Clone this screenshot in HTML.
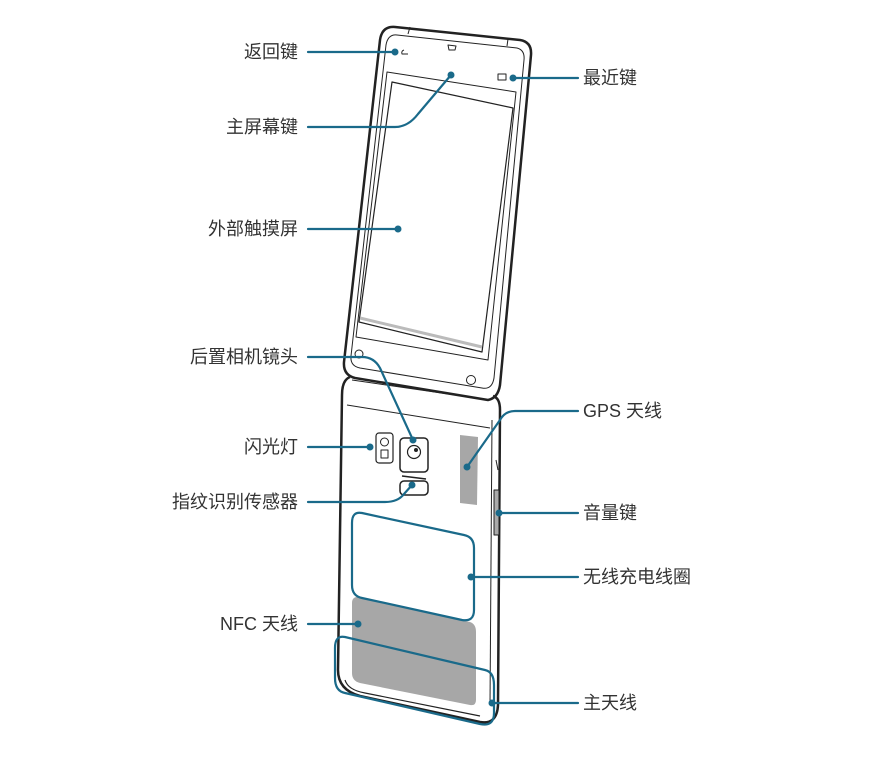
<!DOCTYPE html>
<html><head><meta charset="utf-8"><style>
html,body{margin:0;padding:0;background:#fff;width:870px;height:768px;overflow:hidden}
svg text{font-family:"Liberation Sans","Noto Sans CJK SC",sans-serif;font-size:18px;fill:#333}
</style></head><body>
<svg width="870" height="768" viewBox="0 0 870 768" xmlns="http://www.w3.org/2000/svg">
<g fill="none" stroke="#222" stroke-linejoin="round">
<!-- top flip outer -->
<path d="M395 27 L520 40 Q532 42 531 55 L500 385 Q498 398 488 400 L355 378 Q343 375 344 362 L380 40 Q382 26 395 27 Z" stroke-width="2.5"/>
<path d="M397 35 L517 48 Q525 50 524 60 L494 378 Q492 390 482 388 L360 368 Q350 366 351 356 L386 45 Q388 34 397 35 Z" stroke-width="1"/>
<!-- bezel -->
<path d="M387 72 L516 92 L488 360 L356 337 Z" stroke-width="1"/>
<!-- screen -->
<path d="M392 82 L513 108 L482 352 L359 322 Z" stroke-width="1.2"/>
<path d="M360 318 L482 347" stroke="#bbb" stroke-width="3"/>
<line x1="408" y1="34" x2="410" y2="27" stroke-width="1"/>
<line x1="507" y1="46" x2="508" y2="39" stroke-width="1"/>
<circle cx="359" cy="354" r="4" stroke-width="1"/>
<circle cx="471" cy="380" r="4.5" stroke-width="1"/>
<!-- icons -->
<path d="M404 50 q-3 1 -2 4 h6" stroke-width="1"/>
<path d="M448 45 l8 1 l-1 4 h-6 z" stroke-width="1"/>
<rect x="498" y="74" width="8" height="6" stroke-width="1"/>
<!-- bottom part outer -->
<path d="M350 377 Q342 380 342 395 L338 670 Q338 690 360 696 L480 722 Q497 725 498 705 L500 410 Q500 398 493 396" stroke-width="2.5"/>
<path d="M352 380 L490 400" stroke-width="1"/>
<path d="M347 405 L490 428" stroke-width="1"/>
<path d="M345 680 Q348 690 365 693 L480 716" stroke-width="1.2"/>
<path d="M492 420 L490 705" stroke-width="1"/>
<path d="M496 460 L498 470" stroke-width="1"/>
<rect x="494" y="490" width="5" height="45" fill="#aaa" stroke-width="1"/>
<!-- flash -->
<rect x="376" y="433" width="17" height="30" rx="3" stroke-width="1.2"/>
<circle cx="384.5" cy="442" r="4" stroke-width="1"/>
<rect x="381" y="450" width="7" height="8" stroke-width="1"/>
<!-- camera -->
<rect x="400" y="438" width="28" height="34" rx="4" stroke-width="1.5"/>
<circle cx="414" cy="452" r="6.5" stroke-width="1.2"/>
<circle cx="416" cy="450" r="1.5" fill="#222"/>
<line x1="402" y1="476" x2="426" y2="479" stroke-width="1.5"/>
<rect x="400" y="481" width="28" height="14" rx="4" stroke-width="1.5"/>
</g>
<!-- gray areas -->
<path d="M460 435 L478 437 L477 505 L460 503 Z" fill="#a7a7a7"/>
<path d="M352 603 Q352 596 360 597 L470 622 Q476 624 476 632 L476 700 Q476 706 470 705 L360 683 Q352 681 352 673 Z" fill="#a7a7a7"/>
<g fill="none" stroke="#1a6a8a" stroke-width="2.2" stroke-linecap="round" stroke-linejoin="round">
<!-- coil -->
<path d="M362 513 L464 535 Q474 537 474 548 L474 610 Q474 622 462 620 L362 598 Q352 596 352 585 L352 523 Q352 511 362 513 Z"/>
<!-- main antenna -->
<path d="M345 637 L485 670 Q494 672 494 685 L494 713 Q494 727 480 724 L345 693 Q335 691 335 678 L335 648 Q335 635 345 637 Z"/>
<!-- leaders left -->
<line x1="308" y1="52" x2="395" y2="52"/>
<path d="M308 127 L395 127 Q408 127 418 114 L451 75"/>
<line x1="308" y1="229" x2="398" y2="229"/>
<path d="M308 357 L362 357 Q374 357 380 368 L413 440"/>
<line x1="308" y1="447" x2="370" y2="447"/>
<path d="M308 502 L385 502 Q398 502 404 494 L412 485"/>
<line x1="308" y1="624" x2="358" y2="624"/>
<!-- leaders right -->
<line x1="578" y1="78" x2="513" y2="78"/>
<path d="M578 411 L515 411 Q505 411 500 420 L467 467"/>
<line x1="578" y1="513" x2="499" y2="513"/>
<line x1="578" y1="577" x2="471" y2="577"/>
<line x1="578" y1="703" x2="492" y2="703"/>
</g>
<g fill="#1a6a8a">
<circle cx="395" cy="52" r="3.5"/><circle cx="451" cy="75" r="3.5"/><circle cx="398" cy="229" r="3.5"/>
<circle cx="413" cy="440" r="3.5"/><circle cx="370" cy="447" r="3.5"/><circle cx="412" cy="485" r="3.5"/>
<circle cx="358" cy="624" r="3.5"/><circle cx="513" cy="78" r="3.5"/><circle cx="467" cy="467" r="3.5"/>
<circle cx="499" cy="513" r="3.5"/><circle cx="471" cy="577" r="3.5"/><circle cx="492" cy="703" r="3.5"/>
</g>
<g text-anchor="end">
<text x="298" y="58">返回键</text>
<text x="298" y="133">主屏幕键</text>
<text x="298" y="235">外部触摸屏</text>
<text x="298" y="363">后置相机镜头</text>
<text x="298" y="453">闪光灯</text>
<text x="298" y="508">指纹识别传感器</text>
<text x="298" y="630">NFC 天线</text>
</g>
<text x="583" y="84">最近键</text>
<text x="583" y="417">GPS 天线</text>
<text x="583" y="519">音量键</text>
<text x="583" y="583">无线充电线圈</text>
<text x="583" y="709">主天线</text>
</svg>
</body></html>
